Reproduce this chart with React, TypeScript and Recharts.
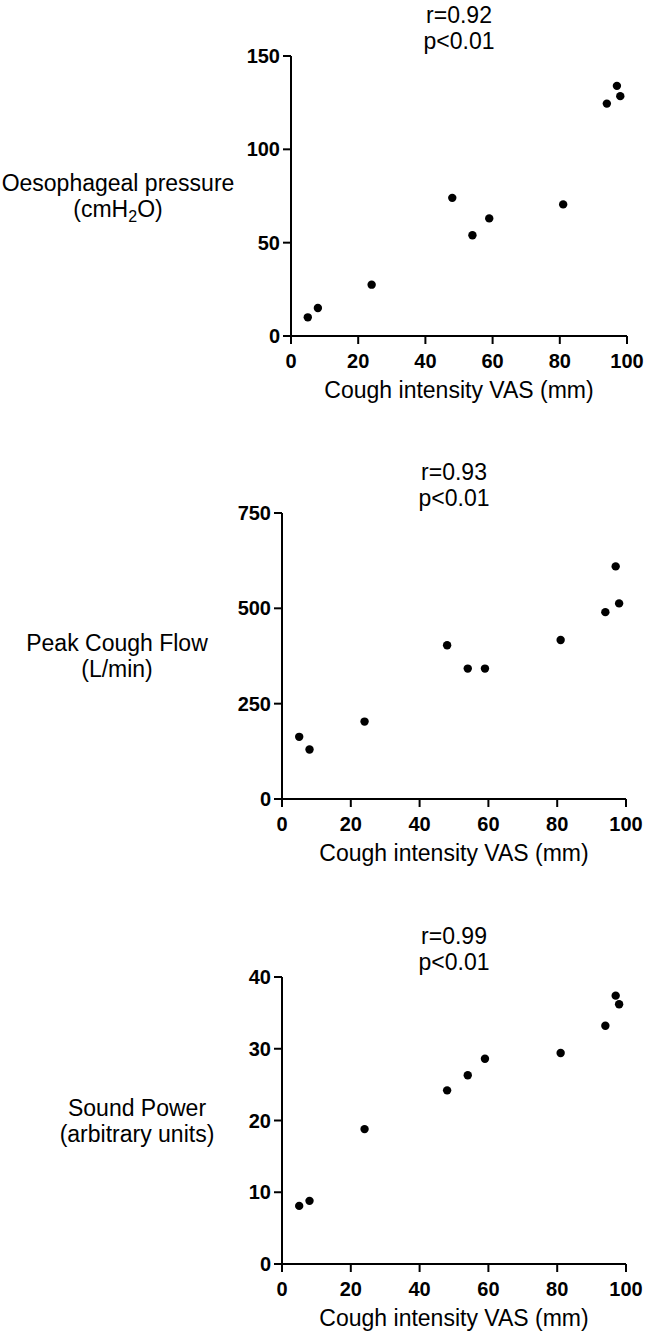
import React from 'react';
import { ScatterChart, Scatter, XAxis, YAxis, Label } from 'recharts';

const FONT = '"Liberation Sans", Arial, Helvetica, sans-serif';

// Cough intensity VAS (mm) per subject
const vas = [5, 8, 24, 48, 54, 59, 81, 94, 97, 98];
const xTicks = [0, 20, 40, 60, 80, 100];

const oesophagealPressure = [10, 15, 27.5, 74, 54, 63, 70.5, 124.5, 134, 128.5];
const oesophagealTicks = [0, 50, 100, 150];

const peakCoughFlow = [163, 130, 203, 403, 342, 342, 417, 490, 610, 513];
const peakFlowTicks = [0, 250, 500, 750];

const soundPower = [8.1, 8.8, 18.8, 24.2, 26.3, 28.6, 29.4, 33.2, 37.4, 36.2];
const soundTicks = [0, 10, 20, 30, 40];

const xLabel = 'Cough intensity VAS (mm)';

type Panel = {
  values: number[];
  yTicks: number[];
  r: string;
  p: string;
  yLine1: string;
  yLine2: React.ReactNode;
  top: number;
  height: number;
  plotTop: number;
  plotBottom: number;
  plotLeft: number;
  plotRight: number;
  yLabelCx: number;
};

const panels: Panel[] = [
  {
    values: oesophagealPressure,
    yTicks: oesophagealTicks,
    r: 'r=0.92',
    p: 'p<0.01',
    yLine1: 'Oesophageal pressure',
    yLine2: (
      <>
        (cmH<tspan dy={5} fontSize={16}>2</tspan>
        <tspan dy={-5}>O)</tspan>
      </>
    ),
    top: 0,
    height: 420,
    plotTop: 56,
    plotBottom: 336,
    plotLeft: 291,
    plotRight: 627,
    yLabelCx: 118,
  },
  {
    values: peakCoughFlow,
    yTicks: peakFlowTicks,
    r: 'r=0.93',
    p: 'p<0.01',
    yLine1: 'Peak Cough Flow',
    yLine2: '(L/min)',
    top: 440,
    height: 440,
    plotTop: 513,
    plotBottom: 799,
    plotLeft: 282,
    plotRight: 626,
    yLabelCx: 117,
  },
  {
    values: soundPower,
    yTicks: soundTicks,
    r: 'r=0.99',
    p: 'p<0.01',
    yLine1: 'Sound Power',
    yLine2: '(arbitrary units)',
    top: 900,
    height: 439,
    plotTop: 977,
    plotBottom: 1264,
    plotLeft: 282,
    plotRight: 626,
    yLabelCx: 137,
  },
];

const W = 653;
const Y_AXIS_W = 60;
const X_AXIS_H = 40;

const Dot = (props: any) => {
  const { cx, cy } = props;
  if (cx == null || cy == null) return null;
  return <circle cx={cx} cy={cy} r={4.2} fill="#000" />;
};

function PanelChart({ cfg }: { cfg: Panel }) {
  const data = vas.map((x, i) => ({ x, y: cfg.values[i] }));
  const relTop = cfg.plotTop - cfg.top;
  const relBottom = cfg.plotBottom - cfg.top;
  const margin = {
    top: relTop,
    bottom: cfg.height - relBottom - X_AXIS_H,
    left: cfg.plotLeft - Y_AXIS_W,
    right: W - cfg.plotRight,
  };
  const plotCx = (cfg.plotLeft + cfg.plotRight) / 2;
  const plotCy = (relTop + relBottom) / 2;
  const textStyle = { fontFamily: FONT, fontSize: 23, fill: '#000' } as const;
  const bl = 8;

  const renderTexts = () => (
    <g>
      <text x={plotCx} y={relTop - 41 + bl} textAnchor="middle" style={textStyle}>
        {cfg.r}
      </text>
      <text x={plotCx} y={relTop - 15 + bl} textAnchor="middle" style={textStyle}>
        {cfg.p}
      </text>
      <text x={cfg.yLabelCx} y={plotCy - 13 + bl} textAnchor="middle" style={textStyle}>
        {cfg.yLine1}
      </text>
      <text x={cfg.yLabelCx} y={plotCy + 13 + bl} textAnchor="middle" style={textStyle}>
        {cfg.yLine2}
      </text>
      <text x={plotCx} y={relBottom + 54 + bl} textAnchor="middle" style={textStyle}>
        {xLabel}
      </text>
    </g>
  );

  const tickStyle = { fill: '#000', fontSize: 20, fontWeight: 'bold', fontFamily: FONT };

  return (
    <div style={{ position: 'absolute', left: 0, top: cfg.top, width: W, height: cfg.height }}>
      <ScatterChart width={W} height={cfg.height} margin={margin}>
        <XAxis
          type="number"
          dataKey="x"
          domain={[0, 100]}
          ticks={xTicks}
          interval={0}
          height={X_AXIS_H}
          tick={tickStyle}
          tickSize={8}
          tickMargin={10}
          axisLine={{ stroke: '#000', strokeWidth: 2 }}
          tickLine={{ stroke: '#000', strokeWidth: 2 }}
        />
        <YAxis
          type="number"
          dataKey="y"
          domain={[0, cfg.yTicks[cfg.yTicks.length - 1]]}
          ticks={cfg.yTicks}
          interval={0}
          width={Y_AXIS_W}
          tick={tickStyle}
          tickSize={8}
          tickMargin={3}
          axisLine={{ stroke: '#000', strokeWidth: 2 }}
          tickLine={{ stroke: '#000', strokeWidth: 2 }}
        >
          <Label content={renderTexts} />
        </YAxis>
        <Scatter data={data} shape={Dot} isAnimationActive={false} />
      </ScatterChart>
    </div>
  );
}

export default function App() {
  return (
    <div style={{ position: 'absolute', left: 0, top: 0, width: W, height: 1339, background: '#fff' }}>
      {panels.map((p, i) => (
        <PanelChart key={i} cfg={p} />
      ))}
    </div>
  );
}
